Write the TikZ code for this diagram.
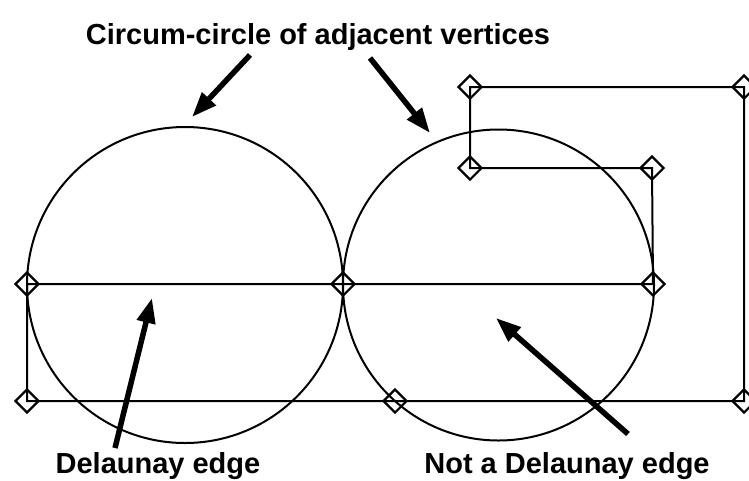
\documentclass[tikz,border=0pt]{standalone}
\usepackage{fontspec}
\setmainfont{Liberation Sans}
\usetikzlibrary{arrows.meta,shapes.geometric}

\begin{document}
\begin{tikzpicture}[x=1pt,y=-1pt,>={Triangle[length=25pt,width=18pt]},
  vert/.style={draw,diamond,line width=2.2pt,minimum size=24pt,inner sep=0pt},
  edge/.style={line width=2pt,line join=miter},
  ring/.style={line width=2pt},
  pointer/.style={->,line width=5.5pt},
  caption/.style={font=\bfseries\fontsize{29}{32}\selectfont,inner sep=0pt}]
\clip (0,0) rectangle (749,480);
\node[vert] (a) at (27,284) {};
\node[vert] (b) at (27,401) {};
\node[vert] (c) at (343,284) {};
\node[vert] (d) at (395,401) {};
\node[vert] (e) at (653,284) {};
\node[vert] (f) at (744,401) {};
\node[vert] (g) at (744,87) {};
\node[vert] (h) at (470,87) {};
\node[vert] (i) at (470,168) {};
\node[vert] (j) at (652,168) {};
\draw[edge] (a.center) -- (c.center) -- (e.center) -- (j.center) -- (i.center) -- (h.center)
  -- (g.center) -- (f.center) -- (d.center) -- (b.center) -- cycle;
\draw[ring] (185,285) circle[radius=158];
\draw[ring] (498.5,285) circle[radius=155.5];
\node[caption] (top) at (318,37) {Circum-circle of adjacent vertices};
\node[caption] (del) at (158,466) {Delaunay edge};
\node[caption] (notdel) at (567,466) {Not a Delaunay edge};
\coordinate (t1) at (250,55);
\coordinate (h1) at (192,117);
\coordinate (t2) at (370,58);
\coordinate (h2) at (430,133);
\coordinate (t3) at (115,448);
\coordinate (h3) at (152,298);
\coordinate (t4) at (628,434);
\coordinate (h4) at (496,318);
\draw[pointer] (t1) -- (h1);
\draw[pointer] (t2) -- (h2);
\draw[pointer] (t3) -- (h3);
\draw[pointer] (t4) -- (h4);
\end{tikzpicture}
\end{document}
